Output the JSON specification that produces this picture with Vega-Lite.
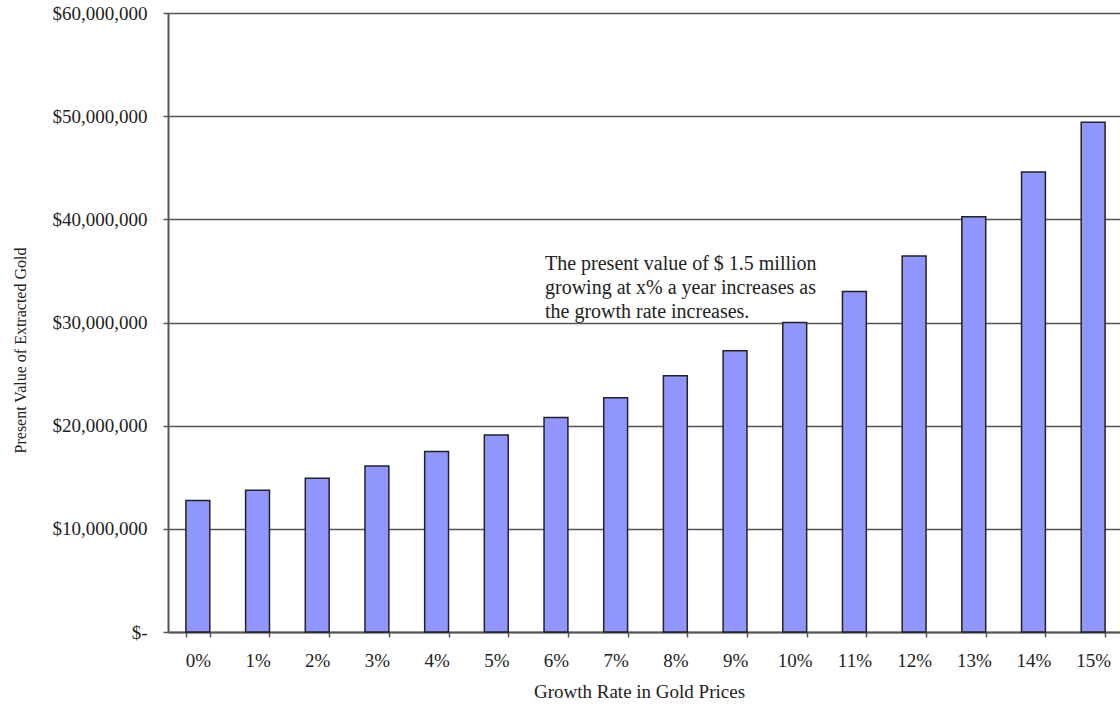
{
  "$schema": "https://vega.github.io/schema/vega-lite/v6.json",
  "width": 955,
  "height": 619,
  "autosize": {"type": "none"},
  "padding": {"left": 168, "top": 13, "right": 0, "bottom": 72},
  "background": "white",
  "config": {
    "view": {"stroke": null},
    "font": "Liberation Serif",
    "axis": {"labelFont": "Liberation Serif", "titleFont": "Liberation Serif", "labelColor": "#222", "titleColor": "#222", "titleFontWeight": "normal"}
  },
  "datasets": {
    "bars": [
      {"rate": "0%", "value": 12750000},
      {"rate": "1%", "value": 13750000},
      {"rate": "2%", "value": 14900000},
      {"rate": "3%", "value": 16100000},
      {"rate": "4%", "value": 17500000},
      {"rate": "5%", "value": 19100000},
      {"rate": "6%", "value": 20800000},
      {"rate": "7%", "value": 22700000},
      {"rate": "8%", "value": 24850000},
      {"rate": "9%", "value": 27250000},
      {"rate": "10%", "value": 30000000},
      {"rate": "11%", "value": 33000000},
      {"rate": "12%", "value": 36450000},
      {"rate": "13%", "value": 40250000},
      {"rate": "14%", "value": 44600000},
      {"rate": "15%", "value": 49400000}
    ],
    "note": [
      {"rate": "6%", "value": 36600000, "text": "The present value of $ 1.5 million\ngrowing at x% a year increases as\nthe growth rate increases."}
    ]
  },
  "layer": [
    {
      "data": {"name": "bars"},
      "mark": {"type": "bar", "fill": "#9196FF", "stroke": "#222", "strokeWidth": 1.5},
      "encoding": {
        "x": {
          "field": "rate", "type": "nominal", "sort": null,
          "scale": {"paddingInner": 0.6, "paddingOuter": 0.3},
          "axis": {
            "title": "Growth Rate in Gold Prices",
            "titleFontSize": 19,
            "titleX": 471, "titleY": 65, "titleBaseline": "alphabetic", "titleAlign": "center",
            "labelAngle": 0, "labelFontSize": 19, "labelPadding": 14,
            "tickBand": "extent", "tickSize": 5, "tickColor": "#555", "tickWidth": 1.5,
            "domainColor": "#555", "domainWidth": 2, "grid": false
          }
        },
        "y": {
          "field": "value", "type": "quantitative",
          "scale": {"domain": [0, 60000000]},
          "axis": {
            "title": "Present Value of Extracted Gold",
            "titleFontSize": 16,
            "titleX": -148, "titleY": 337, "titleAngle": -90, "titleAlign": "center", "titleBaseline": "middle",
            "values": [0, 10000000, 20000000, 30000000, 40000000, 50000000, 60000000],
            "labelExpr": "datum.value == 0 ? '$-' : '$' + format(datum.value, ',')",
            "labelFontSize": 19, "labelPadding": 16,
            "tickSize": 5, "tickColor": "#555", "tickWidth": 1.5,
            "domainColor": "#555", "domainWidth": 2,
            "grid": true, "gridColor": "#555", "gridWidth": 1.5
          }
        }
      }
    },
    {
      "data": {"name": "note"},
      "mark": {"type": "text", "align": "left", "baseline": "top", "fontSize": 20, "lineHeight": 24, "lineBreak": "\n", "dx": -11, "color": "#222", "font": "Liberation Serif"},
      "encoding": {
        "x": {"field": "rate", "type": "nominal", "sort": null},
        "y": {"field": "value", "type": "quantitative"},
        "text": {"field": "text"}
      }
    }
  ]
}
